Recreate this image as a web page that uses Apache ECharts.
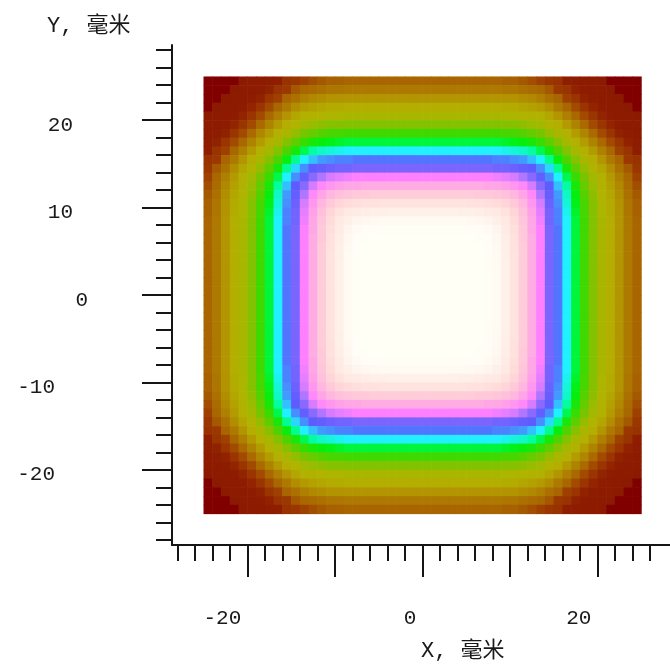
<!DOCTYPE html>
<html><head><meta charset="utf-8">
<script src="https://cdn.jsdelivr.net/npm/echarts@6/dist/echarts.min.js"></script>
<style>html,body{margin:0;padding:0;background:#fff}#c{width:670px;height:667px}</style>
</head><body><div id="c"></div>
<script>
// cell centres (mm)
const xCells = [-24.5,-23.5,-22.5,-21.5,-20.5,-19.5,-18.5,-17.5,-16.5,-15.5,-14.5,-13.5,-12.5,-11.5,-10.5,-9.5,-8.5,-7.5,-6.5,-5.5,-4.5,-3.5,-2.5,-1.5,-0.5,0.5,1.5,2.5,3.5,4.5,5.5,6.5,7.5,8.5,9.5,10.5,11.5,12.5,13.5,14.5,15.5,16.5,17.5,18.5,19.5,20.5,21.5,22.5,23.5,24.5];
const yCells = [24.5,23.5,22.5,21.5,20.5,19.5,18.5,17.5,16.5,15.5,14.5,13.5,12.5,11.5,10.5,9.5,8.5,7.5,6.5,5.5,4.5,3.5,2.5,1.5,0.5,-0.5,-1.5,-2.5,-3.5,-4.5,-5.5,-6.5,-7.5,-8.5,-9.5,-10.5,-11.5,-12.5,-13.5,-14.5,-15.5,-16.5,-17.5,-18.5,-19.5,-20.5,-21.5,-22.5,-23.5,-24.5];
const majorTicks = [-20,-10,0,10,20];
const xLabelValues = [-20,0,20];
const yLabelValues = [-20,-10,0,10,20];
const minorTicksX = [-28,-26,-24,-22,-20,-18,-16,-14,-12,-10,-8,-6,-4,-2,0,2,4,6,8,10,12,14,16,18,20,22,24,26];
const minorTicksY = [-28,-26,-24,-22,-20,-18,-16,-14,-12,-10,-8,-6,-4,-2,0,2,4,6,8,10,12,14,16,18,20,22,24,26,28];

// colour level, top-left quadrant (row 0 = top edge, col 0 = left edge);
// the plot is symmetric about both axes
const quadrant = [
[-10.0,-9.0,-8.0,-7.0,-6.0,-5.0,-4.1,-3.1,-2.3,-1.5,-0.8,-0.3,0.0,0.2,0.4,0.4,0.5,0.5,0.5,0.5,0.5,0.5,0.5,0.5,0.5],
[-9.0,-8.0,-7.0,-6.0,-5.0,-4.0,-3.1,-2.1,-1.3,-0.5,0.2,0.7,1.0,1.2,1.4,1.4,1.5,1.5,1.5,1.5,1.5,1.5,1.5,1.5,1.5],
[-8.0,-7.0,-6.0,-5.0,-4.0,-3.0,-2.1,-1.1,-0.3,0.5,1.2,1.7,2.0,2.2,2.4,2.4,2.5,2.5,2.5,2.5,2.5,2.5,2.5,2.5,2.5],
[-7.0,-6.0,-5.0,-4.0,-3.0,-2.0,-1.1,-0.1,0.7,1.5,2.2,2.7,3.0,3.2,3.4,3.4,3.5,3.5,3.5,3.5,3.5,3.5,3.5,3.5,3.5],
[-6.0,-5.0,-4.0,-3.0,-2.0,-1.1,-0.1,0.8,1.7,2.5,3.2,3.7,4.0,4.2,4.4,4.4,4.5,4.5,4.5,4.5,4.5,4.5,4.5,4.5,4.5],
[-5.0,-4.0,-3.0,-2.0,-1.1,-0.1,0.9,1.8,2.7,3.5,4.2,4.7,5.0,5.2,5.4,5.4,5.5,5.5,5.5,5.5,5.5,5.5,5.5,5.5,5.5],
[-4.1,-3.1,-2.1,-1.1,-0.1,0.9,1.9,2.8,3.7,4.5,5.1,5.7,6.0,6.2,6.4,6.4,6.5,6.5,6.5,6.5,6.5,6.5,6.5,6.5,6.5],
[-3.1,-2.1,-1.1,-0.1,0.8,1.8,2.8,3.7,4.6,5.4,6.1,6.6,7.0,7.2,7.3,7.4,7.5,7.5,7.5,7.5,7.5,7.5,7.5,7.5,7.5],
[-2.3,-1.3,-0.3,0.7,1.7,2.7,3.7,4.6,5.5,6.3,7.0,7.6,8.0,8.2,8.3,8.4,8.5,8.5,8.5,8.5,8.5,8.5,8.5,8.5,8.5],
[-1.5,-0.5,0.5,1.5,2.5,3.5,4.5,5.4,6.3,7.2,7.9,8.5,8.9,9.2,9.3,9.4,9.4,9.5,9.5,9.5,9.5,9.5,9.5,9.5,9.5],
[-0.8,0.2,1.2,2.2,3.2,4.2,5.1,6.1,7.0,7.9,8.7,9.3,9.8,10.1,10.3,10.4,10.4,10.5,10.5,10.5,10.5,10.5,10.5,10.5,10.5],
[-0.3,0.7,1.7,2.7,3.7,4.7,5.7,6.6,7.6,8.5,9.3,10.0,10.6,10.9,11.2,11.3,11.4,11.5,11.5,11.5,11.5,11.5,11.5,11.5,11.5],
[0.0,1.0,2.0,3.0,4.0,5.0,6.0,7.0,8.0,8.9,9.8,10.6,11.2,11.7,12.0,12.2,12.4,12.4,12.5,12.5,12.5,12.5,12.5,12.5,12.5],
[0.2,1.2,2.2,3.2,4.2,5.2,6.2,7.2,8.2,9.2,10.1,10.9,11.7,12.3,12.8,13.1,13.3,13.4,13.4,13.5,13.5,13.5,13.5,13.5,13.5],
[0.4,1.4,2.4,3.4,4.4,5.4,6.4,7.3,8.3,9.3,10.3,11.2,12.0,12.8,13.4,13.8,14.1,14.3,14.4,14.4,14.5,14.5,14.5,14.5,14.5],
[0.4,1.4,2.4,3.4,4.4,5.4,6.4,7.4,8.4,9.4,10.4,11.3,12.2,13.1,13.8,14.4,14.9,15.1,15.3,15.4,15.4,15.5,15.5,15.5,15.5],
[0.5,1.5,2.5,3.5,4.5,5.5,6.5,7.5,8.5,9.4,10.4,11.4,12.4,13.3,14.1,14.9,15.4,15.9,16.1,16.3,16.4,16.4,16.5,16.5,16.5],
[0.5,1.5,2.5,3.5,4.5,5.5,6.5,7.5,8.5,9.5,10.5,11.5,12.4,13.4,14.3,15.1,15.9,16.5,16.9,17.1,17.3,17.4,17.4,17.5,17.5],
[0.5,1.5,2.5,3.5,4.5,5.5,6.5,7.5,8.5,9.5,10.5,11.5,12.5,13.4,14.4,15.3,16.1,16.9,17.5,17.9,18,18,18,18,18],
[0.5,1.5,2.5,3.5,4.5,5.5,6.5,7.5,8.5,9.5,10.5,11.5,12.5,13.5,14.4,15.4,16.3,17.1,17.9,18,18,18,18,18,18],
[0.5,1.5,2.5,3.5,4.5,5.5,6.5,7.5,8.5,9.5,10.5,11.5,12.5,13.5,14.5,15.4,16.4,17.3,18,18,18,18,18,18,18],
[0.5,1.5,2.5,3.5,4.5,5.5,6.5,7.5,8.5,9.5,10.5,11.5,12.5,13.5,14.5,15.5,16.4,17.4,18,18,18,18,18,18,18],
[0.5,1.5,2.5,3.5,4.5,5.5,6.5,7.5,8.5,9.5,10.5,11.5,12.5,13.5,14.5,15.5,16.5,17.4,18,18,18,18,18,18,18],
[0.5,1.5,2.5,3.5,4.5,5.5,6.5,7.5,8.5,9.5,10.5,11.5,12.5,13.5,14.5,15.5,16.5,17.5,18,18,18,18,18,18,18],
[0.5,1.5,2.5,3.5,4.5,5.5,6.5,7.5,8.5,9.5,10.5,11.5,12.5,13.5,14.5,15.5,16.5,17.5,18,18,18,18,18,18,18]
];

const colorStops = [
[-11,'#800000'],[-6.9,'#800000'],[-6.1,'#8C1A00'],[-2.3,'#8E1C00'],[-1.6,'#983200'],
[-0.5,'#9B3800'],[0.0,'#A24E00'],[0.45,'#A86400'],[1.1,'#AA6C00'],[1.9,'#AF8600'],
[2.7,'#B39A00'],[3.6,'#B3B000'],[4.3,'#B0B400'],[5.0,'#98BC00'],[5.8,'#74C600'],
[6.6,'#38DC00'],[7.3,'#00F010'],[7.9,'#00FF90'],[8.5,'#20F0FF'],[9.1,'#3CA8FF'],
[9.7,'#5C5CFF'],[10.4,'#6C60FF'],[10.9,'#B078FF'],[11.5,'#FF80FF'],[12.3,'#FFA4E6'],
[13.1,'#FFC0DC'],[13.9,'#FFD8D8'],[14.8,'#FFE8E2'],[15.8,'#FFF4EE'],[16.6,'#FFFCF4'],[18,'#FFFFF6']
];

// ---- build table and colour ramp ----
const data = [];
for (let r = 0; r < yCells.length; r++) {
  const j = r < 25 ? r : 49 - r;
  for (let c = 0; c < xCells.length; c++) {
    const i = c < 25 ? c : 49 - c;
    data.push([xCells[c], yCells[r], quadrant[j][i]]);
  }
}
function hex(c){return [parseInt(c.slice(1,3),16),parseInt(c.slice(3,5),16),parseInt(c.slice(5,7),16)];}
const vMin = colorStops[0][0], vMax = colorStops[colorStops.length-1][0];
const ramp = [];
for (let k = 0; k <= 116; k++) {
  const v = vMin + (vMax - vMin) * k / 116;
  let s = 0;
  while (s < colorStops.length - 2 && v > colorStops[s+1][0]) s++;
  const a = colorStops[s], b = colorStops[s+1];
  const t = Math.max(0, Math.min(1, (v - a[0]) / (b[0] - a[0])));
  const ca = hex(a[1]), cb = hex(b[1]);
  ramp.push('rgb(' + ca.map((x, q) => Math.round(x + (cb[q] - x) * t)).join(',') + ')');
}

const FONT = "'Liberation Mono','Noto Sans CJK SC',monospace";
const axisCol = '#151515';
const txtCol = '#1a1a1a';
const chart = echarts.init(document.getElementById('c'), null, {renderer: 'canvas'});
chart.setOption({
  animation: false,
  backgroundColor: '#ffffff',
  grid: {left: 172, right: 0, top: 45, bottom: 122, containLabel: false},
  visualMap: {type: 'continuous', show: false, dimension: 2, min: vMin, max: vMax, seriesIndex: 0, inRange: {color: ramp}},
  xAxis: [
    {type: 'value', min: -28.6, max: 28.3, position: 'bottom',
     axisLine: {show: true, onZero: false, lineStyle: {color: axisCol, width: 2}},
     axisTick: {show: true, customValues: majorTicks, length: 32, lineStyle: {color: axisCol, width: 2}},
     axisLabel: {show: true, customValues: xLabelValues, margin: 63, align: 'right', padding: [0, 6, 0, 0],
       fontFamily: FONT, fontSize: 21, color: txtCol},
     splitLine: {show: false}},
    {type: 'value', min: -28.6, max: 28.3, position: 'bottom',
     axisLine: {show: false, onZero: false},
     axisTick: {show: true, customValues: minorTicksX, length: 16, lineStyle: {color: axisCol, width: 2}},
     axisLabel: {show: false}, splitLine: {show: false}}
  ],
  yAxis: [
    {type: 'value', min: -28.6, max: 28.6, position: 'left',
     axisLine: {show: true, onZero: false, lineStyle: {color: axisCol, width: 2}},
     axisTick: {show: true, customValues: majorTicks, length: 30, lineStyle: {color: axisCol, width: 2}},
     axisLabel: {show: true, customValues: yLabelValues, margin: 84,
       formatter: v => v < 0 ? '{n|' + v + '}' : (v === 0 ? '{z|0}' : '{p|' + v + '}'),
       rich: {
         n: {padding: [10, 33, 0, 0], fontFamily: FONT, fontSize: 21, color: txtCol},
         p: {padding: [10, 15, 0, 0], fontFamily: FONT, fontSize: 21, color: txtCol},
         z: {padding: [10, 0, 0, 0], fontFamily: FONT, fontSize: 21, color: txtCol}
       }},
     splitLine: {show: false}},
    {type: 'value', min: -28.6, max: 28.6, position: 'left',
     axisLine: {show: false, onZero: false},
     axisTick: {show: true, customValues: minorTicksY, length: 16, lineStyle: {color: axisCol, width: 2}},
     axisLabel: {show: false}, splitLine: {show: false}}
  ],
  graphic: [
    {type: 'text', left: 421, top: 640, style: {text: 'X, 毫米', font: "22px " + FONT, fill: txtCol}},
    {type: 'text', left: 47, top: 15, style: {text: 'Y, 毫米', font: "22px " + FONT, fill: txtCol}}
  ],
  series: [{
    type: 'custom', xAxisIndex: 0, yAxisIndex: 0, data: data,
    encode: {x: 0, y: 1},
    renderItem: function (params, api) {
      const x = api.value(0), y = api.value(1);
      const p0 = api.coord([x - 0.5, y + 0.5]);
      const p1 = api.coord([x + 0.5, y - 0.5]);
      return {type: 'rect', shape: {x: p0[0], y: p0[1], width: p1[0] - p0[0] + 0.6, height: p1[1] - p0[1] + 0.6},
              style: {fill: api.visual('color')}};
    }
  }]
});
</script></body></html>
